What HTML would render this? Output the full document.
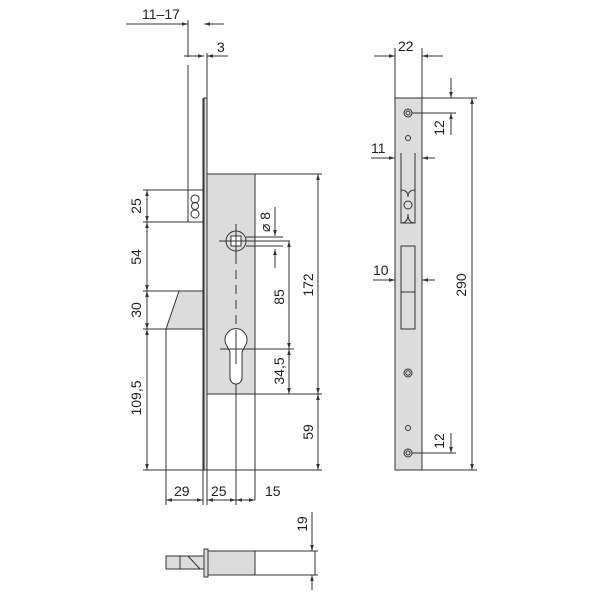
<!DOCTYPE html>
<html><head><style>body{margin:0;background:#fff}svg{display:block}text{font-family:"Liberation Sans",sans-serif;font-size:14px;fill:#222}</style></head><body>
<svg width="600" height="600" viewBox="0 0 600 600" stroke="#333" stroke-width="1" fill="none">
<defs><marker id="a" viewBox="0 0 10 10" refX="10" refY="5" markerWidth="6" markerHeight="6" orient="auto-start-reverse"><path d="M0,2L10,5L0,8z" fill="#333" stroke="none"/></marker></defs>
<rect x="207" y="174" width="48" height="220" fill="#dcdcdc"/>
<rect x="204" y="98" width="3" height="372" fill="#dcdcdc"/>
<line x1="207" y1="53" x2="207" y2="470"/><line x1="203" y1="98" x2="203" y2="470"/>
<line x1="188" y1="20" x2="188" y2="57"/><line x1="188" y1="65" x2="188" y2="222"/>
<line x1="255" y1="174" x2="255" y2="500"/>
<line x1="207" y1="394" x2="322" y2="394"/>
<line x1="207" y1="174" x2="322" y2="174"/>
<line x1="143" y1="470" x2="322" y2="470"/>
<line x1="143" y1="190" x2="203" y2="190"/><line x1="143" y1="222" x2="203" y2="222"/>
<circle cx="195" cy="199" r="4"/><circle cx="195" cy="206" r="3.5"/><circle cx="195" cy="214" r="4"/>
<line x1="143" y1="291" x2="203" y2="291"/>
<path d="M179,291 L166,329 L203,329 L203,291z" fill="#dcdcdc"/>
<line x1="143" y1="329" x2="203" y2="329"/>
<line x1="166" y1="329" x2="166" y2="505"/><line x1="203" y1="470" x2="203" y2="505"/><line x1="207" y1="470" x2="207" y2="505"/>
<line x1="236" y1="240" x2="236" y2="349" stroke-dasharray="9,6"/>
<line x1="236" y1="360" x2="236" y2="505"/>
<circle cx="236" cy="241" r="10" fill="#dcdcdc"/><rect x="231" y="236" width="10" height="10" fill="#fff"/>
<line x1="236" y1="224" x2="236" y2="258"/><line x1="219" y1="241" x2="290" y2="241"/>
<line x1="246" y1="237" x2="283" y2="237"/><line x1="246" y1="246" x2="283" y2="246"/>
<path d="M227,346 A11,11 0 1 1 245,346 L242,352 L242,378 A6,6 0 0 1 230,378 L230,352 Z" fill="#fff"/>
<line x1="236" y1="330" x2="236" y2="364"/><line x1="220" y1="349" x2="294" y2="349"/>
<line x1="147" y1="190" x2="147" y2="222" marker-start="url(#a)" marker-end="url(#a)"/>
<line x1="147" y1="222" x2="147" y2="291" marker-start="url(#a)" marker-end="url(#a)"/>
<line x1="147" y1="291" x2="147" y2="329" marker-start="url(#a)" marker-end="url(#a)"/>
<line x1="147" y1="329" x2="147" y2="470" marker-start="url(#a)" marker-end="url(#a)"/>
<line x1="289" y1="241" x2="289" y2="349" marker-start="url(#a)" marker-end="url(#a)"/>
<line x1="289" y1="349" x2="289" y2="394" marker-start="url(#a)" marker-end="url(#a)"/>
<line x1="318" y1="174" x2="318" y2="394" marker-start="url(#a)" marker-end="url(#a)"/>
<line x1="318" y1="394" x2="318" y2="470" marker-start="url(#a)" marker-end="url(#a)"/>
<line x1="275" y1="207" x2="275" y2="236" marker-end="url(#a)"/>
<line x1="275" y1="268" x2="275" y2="249" marker-end="url(#a)"/>
<line x1="126" y1="24" x2="188" y2="24" marker-end="url(#a)"/><line x1="224" y1="24" x2="204" y2="24" marker-end="url(#a)"/>
<line x1="184" y1="56" x2="204" y2="56" marker-end="url(#a)"/><line x1="228" y1="56" x2="207" y2="56" marker-end="url(#a)"/>
<line x1="166" y1="500" x2="203" y2="500" marker-start="url(#a)" marker-end="url(#a)"/>
<line x1="207" y1="500" x2="236" y2="500" marker-start="url(#a)" marker-end="url(#a)"/>
<line x1="236" y1="500" x2="255" y2="500" marker-start="url(#a)" marker-end="url(#a)"/>
<g stroke="none">
<text x="142" y="19">11–17</text><text x="217" y="52">3</text>
<text x="174" y="496">29</text><text x="211" y="496">25</text><text x="265" y="496">15</text>
<text transform="translate(141,206) rotate(-90)" text-anchor="middle">25</text>
<text transform="translate(141,257) rotate(-90)" text-anchor="middle">54</text>
<text transform="translate(141,310) rotate(-90)" text-anchor="middle">30</text>
<text transform="translate(141,398) rotate(-90)" text-anchor="middle">109,5</text>
<text transform="translate(284,297) rotate(-90)" text-anchor="middle">85</text>
<text transform="translate(284,371) rotate(-90)" text-anchor="middle">34,5</text>
<text transform="translate(313,285) rotate(-90)" text-anchor="middle">172</text>
<text transform="translate(313,432) rotate(-90)" text-anchor="middle">59</text>
<text transform="translate(270,222) rotate(-90)" text-anchor="middle">⌀ 8</text>
</g>
<rect x="395" y="98" width="27" height="372" fill="#dcdcdc"/>
<line x1="395" y1="48" x2="395" y2="98"/><line x1="422" y1="48" x2="422" y2="98"/>
<line x1="374" y1="56" x2="395" y2="56" marker-end="url(#a)"/><line x1="443" y1="56" x2="422" y2="56" marker-end="url(#a)"/>
<line x1="422" y1="98" x2="477" y2="98"/><line x1="422" y1="470" x2="477" y2="470"/>
<line x1="472" y1="98" x2="472" y2="470" marker-start="url(#a)" marker-end="url(#a)"/>
<line x1="412" y1="113" x2="456" y2="113"/><line x1="412" y1="453" x2="456" y2="453"/>
<line x1="451" y1="78" x2="451" y2="98" marker-end="url(#a)"/><line x1="451" y1="135" x2="451" y2="113" marker-end="url(#a)"/>
<line x1="451" y1="433" x2="451" y2="453" marker-end="url(#a)"/>
<circle cx="408" cy="113" r="4"/><circle cx="408" cy="113" r="2"/>
<circle cx="408" cy="138" r="2.5"/>
<circle cx="408" cy="373" r="4"/><circle cx="408" cy="373" r="2.2"/>
<circle cx="408" cy="428" r="2.5"/>
<circle cx="408" cy="453" r="4"/><circle cx="408" cy="453" r="2"/>
<path d="M401,153 V223 H415 V153"/>
<circle cx="408" cy="205" r="4"/>
<path d="M401,190 Q408,190 408,197 M415,190 Q408,190 408,197 M401,223 Q408,223 408,214 M415,223 Q408,223 408,214"/>
<rect x="401" y="246" width="14" height="83"/><line x1="401" y1="292" x2="415" y2="292"/>
<line x1="371" y1="158" x2="395" y2="158" marker-end="url(#a)"/><line x1="435" y1="158" x2="422" y2="158" marker-end="url(#a)"/>
<line x1="373" y1="280" x2="395" y2="280" marker-end="url(#a)"/><line x1="435" y1="280" x2="422" y2="280" marker-end="url(#a)"/>
<g stroke="none">
<text x="398" y="51">22</text><text x="371" y="153">11</text><text x="373" y="275">10</text>
<text transform="translate(444,128) rotate(-90)" text-anchor="middle">12</text>
<text transform="translate(444,441) rotate(-90)" text-anchor="middle">12</text>
<text transform="translate(466,285) rotate(-90)" text-anchor="middle">290</text>
<text transform="translate(307,524) rotate(-90)" text-anchor="middle">19</text>
</g>
<rect x="166" y="556" width="38" height="13" fill="#dcdcdc"/>
<line x1="180" y1="556" x2="180" y2="569"/><line x1="188" y1="556" x2="200" y2="569"/>
<rect x="204" y="549" width="4" height="28" fill="#dcdcdc"/>
<rect x="208" y="551" width="47" height="24" fill="#dcdcdc"/>
<rect x="255" y="551" width="60" height="24"/>
<line x1="315" y1="551" x2="318" y2="551"/><line x1="315" y1="575" x2="318" y2="575"/>
<line x1="312" y1="512" x2="312" y2="551" marker-end="url(#a)"/><line x1="312" y1="590" x2="312" y2="575" marker-end="url(#a)"/>
</svg>
</body></html>
